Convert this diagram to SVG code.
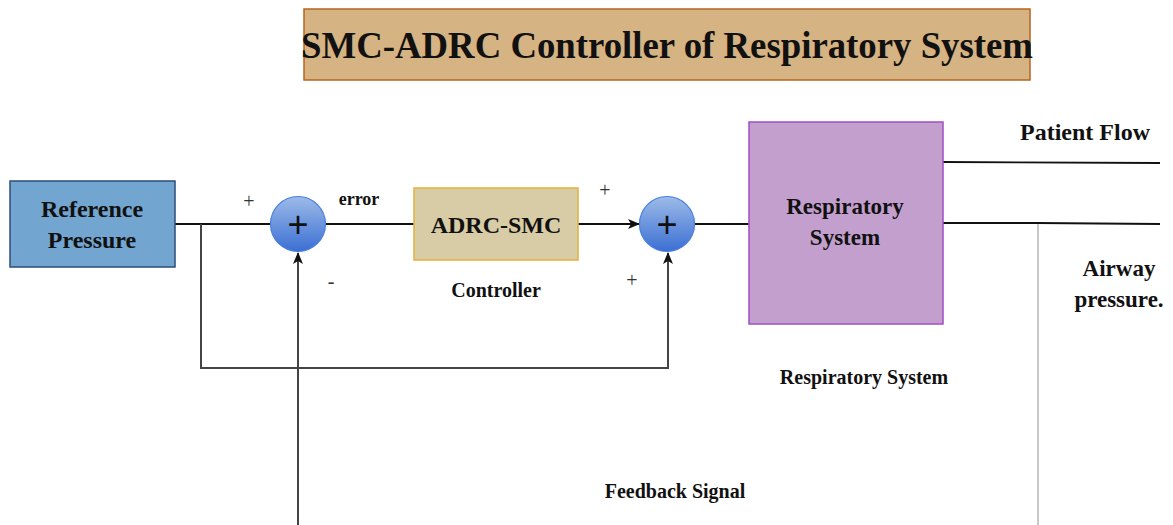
<svg xmlns="http://www.w3.org/2000/svg" width="1173" height="525" viewBox="0 0 1173 525">
<style>
.t{font-family:"Liberation Serif","Times New Roman",serif;font-weight:bold;fill:#111;text-anchor:middle}
.sgn{font-family:"Liberation Serif","Times New Roman",serif;fill:#333;text-anchor:middle;font-size:20px}
.ln{fill:none;stroke:#111;stroke-width:1.8}
.gl{fill:none;stroke:#444;stroke-width:2}
.sum{stroke:#4a7fe0;stroke-width:1.2;fill:url(#g)}
.pl{font-family:"Liberation Sans",Arial,sans-serif;fill:#111;text-anchor:middle;font-size:36px}
</style>
<defs>
<linearGradient id="g" x1="0" y1="0" x2="0" y2="1">
<stop offset="0" stop-color="#9dbbe8"/>
<stop offset="1" stop-color="#3b6fd3"/>
</linearGradient>
<marker id="ar" viewBox="0 0 12 10" refX="11" refY="5" markerWidth="12" markerHeight="10" markerUnits="userSpaceOnUse" orient="auto">
<path d="M0,0 L12,5 L0,10 L3,5 Z" fill="#111"/>
</marker>
</defs>
<rect width="1173" height="525" fill="#fff"/>
<g id="title">
<rect x="304" y="9" width="726" height="71" fill="#d6b382" stroke="#b8651f" stroke-width="1.5"/>
<text class="t" x="667" y="58" font-size="37" textLength="732" lengthAdjust="spacingAndGlyphs">SMC-ADRC Controller of Respiratory System</text>
</g>
<g id="connectors">
<path class="ln" d="M175,224 H270"/>
<path class="ln" d="M325,224 H414"/>
<path class="ln" d="M578,224 H639" marker-end="url(#ar)"/>
<path class="ln" d="M695,224 H749"/>
<path class="gl" d="M201,224 V368 H668 V253" marker-end="url(#ar)"/>
<path class="gl" d="M298,525 V253" marker-end="url(#ar)"/>
<path class="ln" d="M943,162 L1160,163"/>
<path class="ln" d="M943,223 H1037 L1160,224"/>
<path fill="none" stroke="#c8c8c8" stroke-width="2" d="M1038,224 V525"/>
</g>
<g id="ref">
<rect x="10" y="181" width="165" height="86" fill="#72a5cf" stroke="#2c4e7a" stroke-width="1.5"/>
<text class="t" x="92" y="217" font-size="24">Reference</text>
<text class="t" x="92" y="248" font-size="24">Pressure</text>
</g>
<g id="sum1">
<circle class="sum" cx="298" cy="224" r="27.5"/>
<text class="pl" x="298" y="237">+</text>
<text class="sgn" x="249" y="208">+</text>
<text class="sgn" x="331" y="288">-</text>
<text class="t" x="359" y="205" font-size="18">error</text>
</g>
<g id="adrc">
<rect x="414" y="188" width="164" height="72" fill="#d8cca6" stroke="#e3b03e" stroke-width="1.5"/>
<text class="t" x="496" y="233" font-size="24">ADRC-SMC</text>
<text class="t" x="496" y="297" font-size="20">Controller</text>
</g>
<g id="sum2">
<circle class="sum" cx="667" cy="224" r="27.5"/>
<text class="pl" x="667" y="237">+</text>
<text class="sgn" x="605" y="197">+</text>
<text class="sgn" x="632" y="287">+</text>
</g>
<g id="resp">
<rect x="749" y="122" width="194" height="202" fill="#c39fce" stroke="#a04fc4" stroke-width="1.5"/>
<text class="t" x="845" y="214" font-size="23">Respiratory</text>
<text class="t" x="845" y="245" font-size="23">System</text>
<text class="t" x="864" y="384" font-size="20">Respiratory System</text>
</g>
<g id="outputs">
<text class="t" x="1085" y="140" font-size="24">Patient Flow</text>
<text class="t" x="1119" y="276" font-size="23">Airway</text>
<text class="t" x="1119" y="307" font-size="23">pressure.</text>
</g>
<g id="feedback">
<text class="t" x="675" y="498" font-size="20">Feedback Signal</text>
</g>
</svg>
